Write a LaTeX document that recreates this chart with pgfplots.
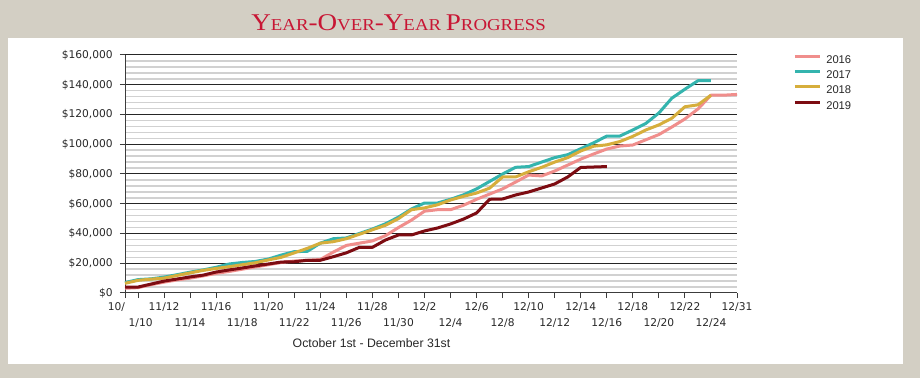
\documentclass[border=0pt]{standalone}
\usepackage{pgfplots}
\pgfplotsset{compat=1.18}
\usepackage{fontspec}
\setmainfont{Liberation Sans}
\newfontfamily\dejavu{DejaVu Sans}
\newfontfamily\titleserif{Liberation Serif}
\definecolor{beige}{RGB}{211,207,196}
\definecolor{titlered}{RGB}{200,22,52}
\definecolor{axisgray}{RGB}{60,60,60}
\definecolor{labelgray}{RGB}{40,40,40}
\definecolor{pinkc}{RGB}{240,142,140}
\definecolor{tealc}{RGB}{52,180,174}
\definecolor{goldc}{RGB}{214,174,60}
\definecolor{redc}{RGB}{125,12,18}
\newcommand\BigC{\fontsize{18}{18}\selectfont}
\newcommand\SmC{\fontsize{12.5}{12.5}\selectfont}
\begin{document}
\begin{tikzpicture}
\fill[beige] (0pt,0pt) rectangle (690pt,283.5pt);
\fill[white] (6pt,10.5pt) rectangle (677.25pt,255pt);
\node[anchor=base, text=titlered, inner sep=0pt, xscale=1.13] at (298.9pt,260.25pt)
  {\titleserif\BigC Y\SmC EAR\BigC -O\SmC VER\BigC -Y\SmC EAR \BigC P\SmC ROGRESS};
\node[anchor=base, inner sep=0pt, text=labelgray, font=\fontsize{9.2}{9.2}\selectfont] at (278.6pt,23.25pt) {October 1st - December 31st};
\begin{axis}[
  at={(93.75pt,63.75pt)}, anchor=south west,
  scale only axis, width=459pt, height=178.5pt,
  xmin=0, xmax=47, ymin=0, ymax=160000,
  enlargelimits=false, clip=false,
  axis lines=left, axis line style={-, draw=axisgray, line width=0.75pt},
  tick align=outside, major tick length=3.8pt, minor tick length=0pt,
  tick style={draw=axisgray, line width=0.75pt},
  scaled y ticks=false,
  ytick={0,20000,40000,60000,80000,100000,120000,140000,160000},
  yticklabels={{\$0},{\$20,000},{\$40,000},{\$60,000},{\$80,000},{\$100,000},{\$120,000},{\$140,000},{\$160,000}},
  minor y tick num=4,
  ymajorgrids, yminorgrids,
  major grid style={draw=black!85, line width=0.75pt},
  minor grid style={draw=black!18, line width=1.1pt},
  xtick={0,3,7,11,15,19,23,27,31,35,39,43,47},
  xticklabels={\llap{10/},11/12,11/16,11/20,11/24,11/28,12/2,12/6,12/10,12/14,12/18,12/22,12/31},
  extra x ticks={1,5,9,13,17,21,25,29,33,37,41,45},
  extra x tick labels={\hspace*{4pt}1/10,11/14,11/18,11/22,11/26,11/30,12/4,12/8,12/12,12/16,12/20,12/24},
  extra x tick style={grid=none, x tick label style={yshift=-12pt}},
  x tick label style={anchor=base, inner sep=0pt, yshift=-9.3pt, font=\dejavu\fontsize{8}{8}\selectfont, text=labelgray},
  y tick label style={anchor=east, inner sep=0pt, xshift=-5.2pt, font=\dejavu\fontsize{8}{8}\selectfont, text=labelgray},
  legend style={draw=none, fill=none, at={(1.0915,1.018)}, anchor=north west, inner sep=0pt, row sep=0.6pt,
    font=\fontsize{8.4}{8.4}\selectfont, text=labelgray, nodes={inner sep=0pt}},
  legend cell align=left,
  legend image code/.code={\draw[#1, line width=2.25pt] (0pt,3pt) -- (18.75pt,3pt); \path (22.5pt,0pt) (0pt,6pt);},
  every axis plot/.append style={line width=2.25pt, line join=round, mark=none},
]
\addplot[pinkc] coordinates {
(0,3200) (1,3600) (2,5600) (3,7300) (4,8800) (5,10000) (6,11500) (7,13200) (8,14500) (9,16000)
(10,17500) (11,19000) (12,20500) (13,21500) (14,22000) (15,22500) (16,27500) (17,32000) (18,33500) (19,35000)
(20,38500) (21,44000) (22,49000) (23,55000) (24,56000) (25,56000) (26,59000) (27,63000) (28,66500) (29,70000)
(30,74600) (31,79300) (32,78700) (33,82000) (34,86000) (35,90000) (36,93500) (37,96800) (38,98800) (39,99500)
(40,103000) (41,106500) (42,111600) (43,117000) (44,123700) (45,133000) (46,133000) (47,133500)};
\addlegendentry{2016}
\addplot[tealc] coordinates {
(0,7000) (1,9000) (2,9500) (3,10700) (4,12300) (5,14000) (6,15500) (7,17300) (8,19500) (9,20500)
(10,21200) (11,22800) (12,25500) (13,27800) (14,28000) (15,33500) (16,36500) (17,37000) (18,40000) (19,43000)
(20,46500) (21,51000) (22,56500) (23,60500) (24,60500) (25,63000) (26,66000) (27,70000) (28,75000) (29,80000)
(30,84500) (31,85000) (32,88000) (33,91000) (34,93000) (35,97000) (36,101000) (37,105500) (38,105500) (39,109600)
(40,114000) (41,121000) (42,131000) (43,137000) (44,142700) (45,142700)};
\addlegendentry{2017}
\addplot[goldc] coordinates {
(0,6500) (1,8500) (2,9300) (3,10000) (4,11800) (5,13500) (6,15200) (7,16500) (8,17700) (9,19000)
(10,20300) (11,22200) (12,24000) (13,27000) (14,30000) (15,33500) (16,34500) (17,36500) (18,39500) (19,42500)
(20,45500) (21,50000) (22,56000) (23,57200) (24,59300) (25,62500) (26,65000) (27,67200) (28,70500) (29,78000)
(30,78000) (31,81500) (32,84500) (33,88000) (34,91000) (35,95500) (36,98700) (37,99600) (38,101800) (39,105300)
(40,109600) (41,113000) (42,117500) (43,125200) (44,126500) (45,133000)};
\addlegendentry{2018}
\addplot[redc] coordinates {
(0,4000) (1,4000) (2,6000) (3,8000) (4,9400) (5,10800) (6,12000) (7,14100) (8,15500) (9,16800)
(10,18200) (11,19500) (12,20800) (13,21000) (14,22000) (15,22000) (16,24400) (17,27000) (18,30700) (19,30700)
(20,35600) (21,39000) (22,39000) (23,41700) (24,43700) (25,46400) (26,49700) (27,53800) (28,63000) (29,63200)
(30,65900) (31,67900) (32,70600) (33,73300) (34,78000) (35,84400) (36,84700) (37,85000)};
\addlegendentry{2019}
\end{axis}
\end{tikzpicture}
\end{document}
